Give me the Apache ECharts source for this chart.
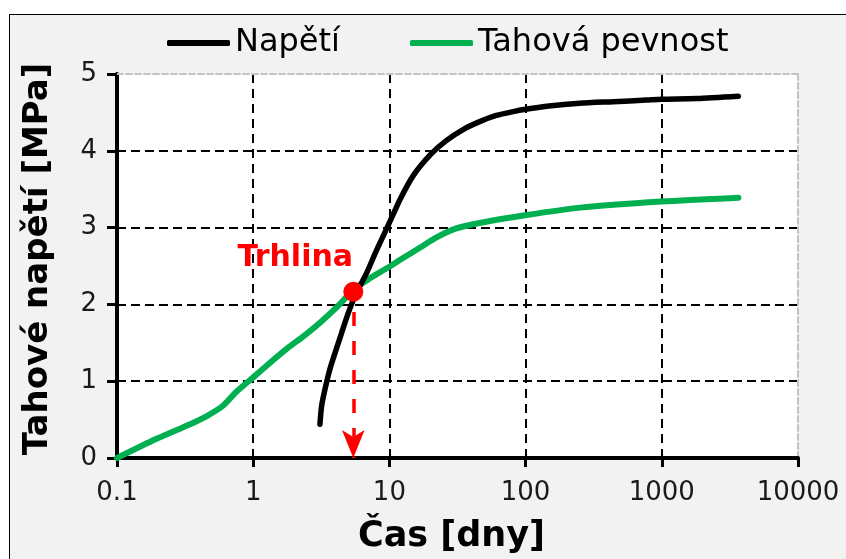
<!DOCTYPE html>
<html>
<head>
<meta charset="utf-8">
<script src="https://cdn.jsdelivr.net/npm/echarts@6/dist/echarts.min.js"></script>
<style>
  html, body { margin: 0; padding: 0; background: #ffffff; }
  #bg { position: absolute; left: 9px; top: 14px; width: 900px; height: 600px;
        background: #f2f2f2; border-left: 1px solid #000; border-top: 1px solid #000; }
  #chart { position: absolute; left: 0; top: 0; width: 846px; height: 559px; }
</style>
</head>
<body>
<div id="bg"></div>
<div id="chart"></div>
<script>
// ---- data ----
const seriesNames = ['Napětí', 'Tahová pevnost'];
const xTickLabels = ['0.1', '1', '10', '100', '1000', '10000'];
const napetiX = [3.09, 3.18, 3.37, 3.66, 3.99, 4.46, 4.99, 5.5, 6.08, 6.81, 8.07, 10.1, 12, 15, 20, 26, 35, 46, 61, 81, 100, 143, 250, 440, 770, 1000, 1800, 3650];
const napetiY = [0.44, 0.68, 0.90, 1.16, 1.37, 1.63, 1.89, 2.08, 2.24, 2.41, 2.71, 3.08, 3.37, 3.68, 3.95, 4.13, 4.28, 4.38, 4.46, 4.51, 4.54, 4.58, 4.62, 4.64, 4.66, 4.67, 4.68, 4.71];
const pevnostX = [0.1, 0.195, 0.344, 0.46, 0.6, 0.75, 1.0, 1.33, 1.76, 2.4, 3.09, 4.2, 5.43, 7.2, 9.55, 12.5, 16.8, 22, 31, 46, 99, 251, 1000, 3650];
const pevnostY = [0.0, 0.25, 0.44, 0.55, 0.68, 0.86, 1.05, 1.24, 1.42, 1.6, 1.76, 1.98, 2.19, 2.34, 2.47, 2.6, 2.74, 2.87, 2.99, 3.06, 3.16, 3.26, 3.34, 3.39];
const crackLabel = 'Trhlina';
const crackPoint = [5.43, 2.165];
const arrowFromY = 1.9;
const arrowToY = 0;

const zip = (xs, ys) => xs.map((x, i) => [x, ys[i]]);
const FONT = 'DejaVu Sans';

const chart = echarts.init(document.getElementById('chart'), null, { renderer: 'canvas' });
chart.setOption({
  backgroundColor: 'transparent',
  animation: false,
  textStyle: { fontFamily: FONT },
  grid: { left: 117, right: 48, top: 74, bottom: 100, show: true, backgroundColor: '#ffffff', borderWidth: 0 },
  legend: {
    data: seriesNames,
    left: 167, top: 27, padding: 0,
    icon: 'roundRect', itemWidth: 63, itemHeight: 6, itemGap: 70,
    textStyle: { fontFamily: FONT, fontSize: 32, color: '#000' }
  },
  xAxis: [{
    type: 'log', logBase: 10, min: 0.1, max: 10000,
    name: 'Čas [dny]', nameLocation: 'middle', nameGap: 61,
    nameTextStyle: { fontFamily: FONT, fontSize: 35, fontWeight: 'bold', color: '#000', padding: [0, 12, 0, 0] },
    axisLine: { onZero: false, lineStyle: { color: '#000', width: 4 } },
    axisTick: { length: 9, lineStyle: { color: '#000', width: 3 } },
    axisLabel: { fontFamily: FONT, fontSize: 26, color: '#1a1a1a', margin: 22,
      formatter: v => { const i = Math.round(Math.log10(v)) + 1; return xTickLabels[i] !== undefined ? xTickLabels[i] : ''; } },
    splitLine: { show: true, showMaxLine: false, lineStyle: { color: '#000', width: 2, type: [9, 6] } }
  }, {
    type: 'log', logBase: 10, min: 0.1, max: 10000, position: 'top',
    axisLine: { show: true, onZero: false, lineStyle: { color: '#c4c4c4', width: 2, type: [6, 3] } },
    axisTick: { show: false }, axisLabel: { show: false }, splitLine: { show: false }
  }],
  yAxis: [{
    type: 'value', min: 0, max: 5, interval: 1,
    name: 'Tahové napětí [MPa]', nameLocation: 'middle', nameGap: 62,
    nameTextStyle: { fontFamily: FONT, fontSize: 34, fontWeight: 'bold', color: '#000', padding: [0, 0, 0, 14] },
    axisLine: { show: true, lineStyle: { color: '#000', width: 4 } },
    axisTick: { show: true, length: 10, lineStyle: { color: '#000', width: 3 } },
    axisLabel: { fontFamily: FONT, fontSize: 26, color: '#1a1a1a', margin: 20 },
    splitLine: { show: true, showMaxLine: false, lineStyle: { color: '#000', width: 2, type: [9, 5] } }
  }, {
    type: 'value', min: 0, max: 5, interval: 1, position: 'right',
    axisLine: { show: true, lineStyle: { color: '#c4c4c4', width: 2, type: [6, 3] } },
    axisTick: { show: false }, axisLabel: { show: false }, splitLine: { show: false }
  }],
  series: [{
    name: seriesNames[1], type: 'line', data: zip(pevnostX, pevnostY),
    smooth: 0.25, showSymbol: false, symbol: 'none',
    lineStyle: { color: '#00b050', width: 6, cap: 'round', join: 'round' },
    itemStyle: { color: '#00b050' }, z: 3
  }, {
    name: seriesNames[0], type: 'line', data: zip(napetiX, napetiY),
    smooth: 0.25, showSymbol: false, symbol: 'none',
    lineStyle: { color: '#000000', width: 5.5, cap: 'round', join: 'round' },
    itemStyle: { color: '#000000' }, z: 4
  }, {
    name: crackLabel, type: 'scatter', data: [crackPoint],
    symbol: 'circle', symbolSize: 20, itemStyle: { color: '#ff0000', opacity: 1 }, z: 6,
    label: { show: true, formatter: crackLabel, position: 'inside', offset: [-58, -34],
      fontFamily: FONT, fontSize: 30, fontWeight: 'bold', color: '#ff0000' },
    emphasis: { disabled: true },
    markLine: {
      silent: true, symbol: ['none', 'arrow'], symbolSize: [17, 28],
      label: { show: false },
      lineStyle: { color: '#ff0000', width: 3.5, type: [14, 15], opacity: 1 },
      data: [[{ coord: [crackPoint[0], arrowFromY] }, { coord: [crackPoint[0], arrowToY] }]]
    }
  }]
});
</script>
</body>
</html>
